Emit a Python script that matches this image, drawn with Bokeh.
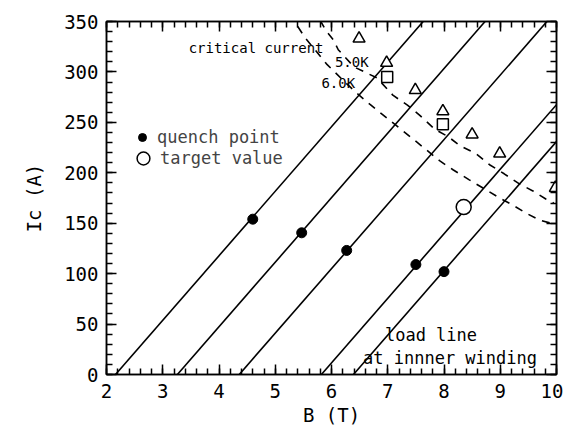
from bokeh.plotting import figure
from bokeh.models import (LinearAxis, Range1d, Label, SingleIntervalTicker,
                          Legend, LegendItem, CustomJSTickFormatter)
from bokeh.embed import file_html
from bokeh.resources import INLINE

# ---- data ----
# load lines (B at Ic=0 -> B at top/right edge)
load_B_start = [2.16, 3.26, 4.36, 5.82, 6.39]
load_Ic_start = [0, 0, 0, 0, 0]
load_B_end = [7.63, 8.73, 9.83, 10.0, 10.0]
load_Ic_end = [350, 350, 350, 267.5, 231]

# quench points
quench_B = [4.60, 5.47, 6.27, 7.50, 8.00]
quench_Ic = [154, 140.5, 123, 109, 102]

# target value
target_B = [8.35]
target_Ic = [166]

# measured critical current (triangles, squares)
tri_B = [6.49, 6.98, 7.49, 7.98, 8.50, 8.99, 9.98]
tri_Ic = [333, 309, 282, 261, 238, 219, 185]
sq_B = [6.99, 7.98]
sq_Ic = [295, 248]

# critical current curves
crit5_B = [5.80, 5.90, 6.03, 6.12, 6.40, 6.81, 7.09, 7.35, 7.57, 7.84, 8.07,
           8.28, 8.57, 8.81, 9.07, 9.34, 9.58, 9.81, 9.95]
crit5_Ic = [351, 341, 332, 322, 305, 294, 277, 267, 257, 243, 236,
            227, 219, 208, 199, 189, 182, 174, 170]
crit6_B = [5.40, 5.53, 5.91, 6.20, 6.45, 6.68, 6.97, 7.66, 7.92, 8.16, 8.45,
           8.75, 8.99, 9.22, 9.46, 9.70, 9.90]
crit6_Ic = [345, 334, 308, 292, 279, 268, 255, 224, 212, 203, 193,
            183, 175, 168, 160, 153, 150]

x_ticks_interval = 1
y_ticks_interval = 50

FONT = "DejaVu Sans Mono"

p = figure(width=563, height=432, x_range=Range1d(2, 10), y_range=Range1d(0, 350),
           output_backend="svg", toolbar_location=None,
           min_border_left=106, min_border_right=7, min_border_top=21,
           min_border_bottom=58)
p.grid.visible = False
p.outline_line_color = "black"
p.outline_line_width = 1.5
p.background_fill_color = "white"
p.border_fill_color = "white"

xt = SingleIntervalTicker(interval=x_ticks_interval, num_minor_ticks=5)
yt = SingleIntervalTicker(interval=y_ticks_interval, num_minor_ticks=5)

for ax in (p.xaxis[0], p.yaxis[0]):
    ax.major_tick_in = 10
    ax.major_tick_out = 0
    ax.minor_tick_in = 6
    ax.minor_tick_out = 0
    ax.axis_line_width = 1.5
    ax.major_tick_line_width = 1.5
    ax.minor_tick_line_width = 1.5
    ax.major_label_text_font = FONT
    ax.major_label_text_font_size = "19px"
    ax.major_label_text_color = "black"
    ax.axis_label_text_font = FONT
    ax.axis_label_text_font_size = "19px"
    ax.axis_label_text_font_style = "normal"
    ax.axis_label_text_color = "black"

p.xaxis.ticker = xt
p.yaxis.ticker = yt
p.xaxis.axis_label = "B (T)"
p.yaxis.axis_label = "Ic (A)"
p.xaxis.major_label_standoff = 9
p.yaxis.major_label_standoff = 8
p.xaxis.axis_label_standoff = 3
p.yaxis.axis_label_standoff = 16

# mirrored axes (ticks only, no labels)
top = LinearAxis(ticker=SingleIntervalTicker(interval=x_ticks_interval, num_minor_ticks=5),
                 formatter=CustomJSTickFormatter(code="return ''"))
right = LinearAxis(ticker=SingleIntervalTicker(interval=y_ticks_interval, num_minor_ticks=5),
                   formatter=CustomJSTickFormatter(code="return ''"))
for ax in (top, right):
    ax.major_tick_in = 10
    ax.major_tick_out = 0
    ax.minor_tick_in = 6
    ax.minor_tick_out = 0
    ax.axis_line_width = 1.5
    ax.major_tick_line_width = 1.5
    ax.minor_tick_line_width = 1.5
    ax.major_label_text_font_size = "1px"
    ax.major_label_standoff = 0
p.add_layout(top, "above")
p.add_layout(right, "right")

# load lines
for xs, ys, xe, ye in zip(load_B_start, load_Ic_start, load_B_end, load_Ic_end):
    p.line([xs, xe], [ys, ye], line_color="black", line_width=1.6)

# critical current curves
p.line(crit5_B, crit5_Ic, line_color="black", line_width=1.6, line_dash="8 7")
p.line(crit6_B, crit6_Ic, line_color="black", line_width=1.6, line_dash="8 7")

# markers
p.scatter(tri_B, tri_Ic, marker="triangle", size=12, fill_color="white",
          line_color="black", line_width=1.5)
p.scatter(sq_B, sq_Ic, marker="square", size=11, fill_color="white",
          line_color="black", line_width=1.5)
r_q = p.scatter(quench_B, quench_Ic, marker="circle", size=10, color="black")
r_t = p.scatter(target_B, target_Ic, marker="circle", size=15, fill_color="white",
                line_color="black", line_width=1.5)

# legends (two, so the key marks can differ in size)
lg1 = Legend(items=[LegendItem(label="quench point", renderers=[r_q])],
             location=(26, 227), glyph_width=20, glyph_height=20,
             label_height=20, label_standoff=5, padding=0, margin=0,
             border_line_color=None, background_fill_alpha=0,
             label_text_font=FONT, label_text_font_size="17px")
lg2 = Legend(items=[LegendItem(label="target value", renderers=[r_t])],
             location=(21, 200), glyph_width=32, glyph_height=32,
             label_height=32, label_standoff=1, padding=0, margin=0,
             border_line_color=None, background_fill_alpha=0,
             label_text_font=FONT, label_text_font_size="17px")
p.add_layout(lg1, "center")
p.add_layout(lg2, "center")

# annotations
def lab(x, y, t, size):
    p.add_layout(Label(x=x, y=y, text=t, text_font=FONT, text_font_size=size,
                       text_baseline="middle", text_align="left",
                       text_color="black"))

lab(3.46, 324, "critical current", "14px")
lab(6.06, 310, "5.0K", "14px")
lab(5.82, 289, "6.0K", "14px")
lab(6.95, 39, "load line", "17px")
lab(6.56, 16, "at innner winding", "17px")

open("out.html", "w").write(file_html(p, INLINE))
